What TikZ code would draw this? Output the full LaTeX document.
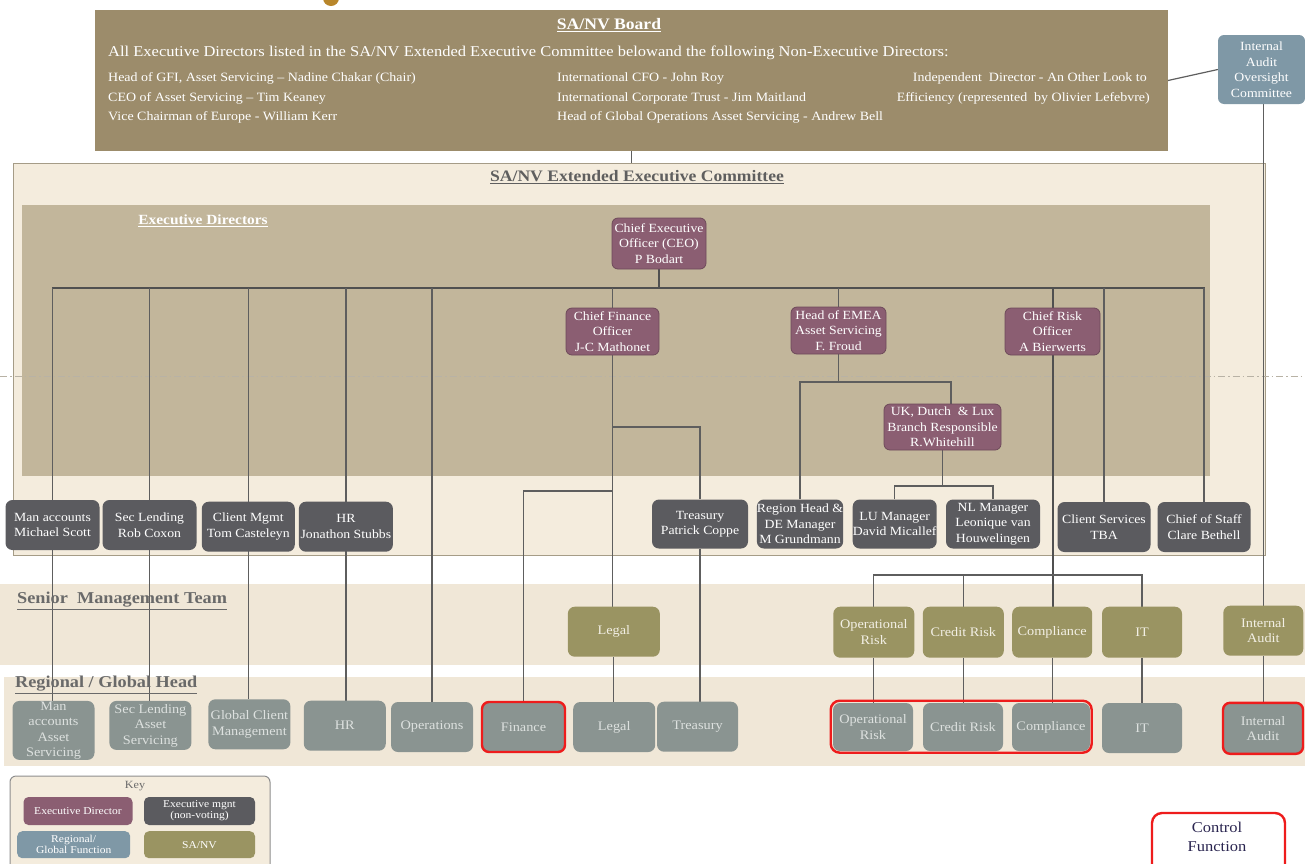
\documentclass[tikz,border=0pt]{standalone}
\usepackage{fontspec}
\setmainfont[FakeStretch=1.1]{Liberation Serif}
\definecolor{boardc}{HTML}{9C8C6B}
\definecolor{extc}{HTML}{F4ECDD}
\definecolor{extb}{HTML}{A59C87}
\definecolor{edc}{HTML}{C2B69B}
\definecolor{mauve}{HTML}{8B5E72}
\definecolor{mauveb}{HTML}{6E4A5A}
\definecolor{dgrey}{HTML}{5B5B5F}
\definecolor{olivec}{HTML}{9A9462}
\definecolor{rgrey}{HTML}{8A9491}
\definecolor{bgrey}{HTML}{7F98A6}
\definecolor{bandc}{HTML}{F0E7D7}
\definecolor{lnc}{HTML}{5E5E5E}
\definecolor{ctrlred}{HTML}{EE1C1C}
\definecolor{goldc}{HTML}{B8862B}
\definecolor{labc}{HTML}{6A6A6A}
\definecolor{rgtext}{HTML}{DDE1DF}
\definecolor{smttext}{HTML}{F2EFE4}
\definecolor{dashc}{HTML}{B8B2A5}
\definecolor{ctrltext}{HTML}{2A2550}
\definecolor{keyb}{HTML}{8E8E8E}
\newcommand\myboxfont{\fontsize{12.5}{15.5}\selectfont}
\newcommand\myrgfont{\fontsize{13}{15.5}\selectfont}
\newcommand\mykeyfont{\fontsize{10.5}{11}\selectfont}
\pgfdeclarelayer{bg}
\pgfdeclarelayer{lines}
\pgfsetlayers{bg,lines,main}
\begin{document}
\begin{tikzpicture}[x=1pt,y=-1pt,
  bx/.style={rounded corners=6pt, align=center, inner sep=0pt, text=white, font=\myboxfont},
  ed/.style={bx, fill=mauve, draw=mauveb, line width=0.8pt},
  em/.style={bx, fill=dgrey, rounded corners=7pt},
  sm/.style={bx, fill=olivec, text=smttext, font=\myrgfont, rounded corners=7pt},
  rg/.style={bx, fill=rgrey, text=rgtext, font=\myrgfont, rounded corners=7pt},
  kb/.style={bx, font=\mykeyfont, rounded corners=5pt},
  ctl/.style={draw=ctrlred, line width=2.4pt},
  ln/.style={draw=lnc, line width=1.2pt},
  bus/.style={draw=lnc!85!black, line width=2pt},
  area/.style={inner sep=0pt, outer sep=0pt},
  sz/.style 2 args={minimum width=#1pt, minimum height=#2pt},
  boardtxt/.style={text=white, anchor=west, inner sep=0pt, font=\fontsize{12.7}{14}\selectfont},
  sectlab/.style={text=labc, anchor=west, inner sep=0pt, font=\bfseries\fontsize{16.6}{18}\selectfont}
]
\useasboundingbox (0,0) rectangle (1305,863);

\begin{pgfonlayer}{bg}
\fill[white] (0,0) rectangle (1305,863);
\fill[goldc] (331,-2) circle (8pt);
\node[area, fill=boardc, sz={1073}{141}] (board) at (631.5,80.5) {};
\node[area, fill=extc, draw=extb, line width=1pt, sz={1252}{392}] (ext) at (639,359) {};
\node[area, fill=edc, sz={1188}{271}] (edarea) at (616,340.5) {};
\node[area, fill=bandc, sz={1305}{81}] (smtband) at (652.5,624.5) {};
\node[area, fill=bandc, sz={1301}{89}] (rgband) at (654.5,721.5) {};
\draw[dashc, line width=0.8pt, dash pattern=on 7pt off 3pt on 1.5pt off 3pt] (0,376) -- (1305,376);
\node[area, fill=extc, draw=keyb, line width=1pt, rounded corners=6pt, sz={260}{104}] (key) at (140,828) {};
\end{pgfonlayer}

% Board texts
\node[text=white, font=\bfseries\fontsize{16}{18}\selectfont] (boardt) at (609,25) {\underline{SA/NV Board}};
\node[boardtxt, font=\fontsize{15}{17}\selectfont] (boardl) at (108,53) {All Executive Directors listed in the SA/NV Extended Executive Committee belowand the following Non-Executive Directors:};
\node[boardtxt] (b11) at (108,78) {Head of GFI, Asset Servicing – Nadine Chakar (Chair)};
\node[boardtxt] (b12) at (108,98) {CEO of Asset Servicing – Tim Keaney};
\node[boardtxt] (b13) at (108,117) {Vice Chairman of Europe - William Kerr};
\node[boardtxt] (b21) at (557,78) {International CFO - John Roy};
\node[boardtxt] (b22) at (557,98) {International Corporate Trust - Jim Maitland};
\node[boardtxt] (b23) at (557,117) {Head of Global Operations Asset Servicing - Andrew Bell};
\node[boardtxt, anchor=east] (b31) at (1147,78) {Independent\ \ Director - An Other Look to};
\node[boardtxt, anchor=east] (b32) at (1150,98) {Efficiency (represented\ \ by Olivier Lefebvre)};

\node[bx, fill=bgrey, sz={87}{69}, font=\fontsize{12.5}{15.5}\selectfont] (iaoc) at (1261.5,69.5) {Internal\\Audit\\Oversight\\Committee};

% section labels
\node[text=labc!90!black, font=\bfseries\fontsize{16}{18}\selectfont] (extt) at (637,177) {\underline{SA/NV Extended Executive Committee}};
\node[text=white, font=\bfseries\fontsize{14}{15}\selectfont] (edt) at (203,221) {\underline{Executive Directors}};
\node[sectlab] (smtt) at (17,601) {\underline{Senior\ \ Management Team}};
\node[sectlab] (rgt) at (15,685) {\underline{Regional / Global Head}};

% Executive directors
\node[ed, sz={94}{51}] (ceo) at (659,243.5) {Chief Executive\\Officer (CEO)\\P Bodart};
\node[ed, sz={93}{47}] (cfo) at (612.5,331.5) {Chief Finance\\Officer\\J-C Mathonet};
\node[ed, sz={95}{47}] (emea) at (838.5,330.5) {Head of EMEA\\Asset Servicing\\F. Froud};
\node[ed, sz={95}{47}] (cro) at (1052.5,331.5) {Chief Risk\\Officer\\A Bierwerts};
\node[ed, sz={117}{46}] (uk) at (942.5,427) {UK, Dutch\ \ \& Lux\\Branch Responsible\\R.Whitehill};

% Executive management
\node[em, sz={94}{50}] (ma) at (52.5,525) {Man accounts\\Michael Scott};
\node[em, sz={94}{50}] (sl) at (149.5,525) {Sec Lending\\Rob Coxon};
\node[em, sz={93}{50}] (cm) at (248.3,526.7) {Client Mgmt\\Tom Casteleyn};
\node[em, sz={94}{50}] (hr) at (345.9,526.7) {HR\\Jonathon Stubbs};
\node[em, sz={96}{49}] (tr) at (700,524) {Treasury\\Patrick Coppe};
\node[em, sz={85}{49}] (rh) at (800,524) {Region Head \&\\DE Manager\\M Grundmann};
\node[em, sz={84}{49}] (lu) at (894.7,524) {LU Manager\\David Micallef};
\node[em, sz={94}{49}] (nl) at (993,524) {NL Manager\\Leonique van\\Houwelingen};
\node[em, sz={93}{50}] (cs) at (1104,527) {Client Services\\TBA};
\node[em, sz={93}{50}] (cos) at (1204,527) {Chief of Staff\\Clare Bethell};

% Senior management team
\node[sm, sz={92}{50}] (legal) at (613.8,631.7) {Legal};
\node[sm, sz={81}{51}] (opr) at (873.8,632.2) {Operational\\Risk};
\node[sm, sz={81}{51}] (cr) at (963.3,632.2) {Credit Risk};
\node[sm, sz={80}{51}] (comp) at (1052.2,632.2) {Compliance};
\node[sm, sz={80}{51}] (it) at (1142,632.2) {IT};
\node[sm, sz={80}{50}] (iasmt) at (1263.3,630.7) {Internal\\Audit};

% Regional / global
\node[rg, sz={82}{59}] (marg) at (53.5,730.4) {Man\\accounts\\Asset\\Servicing};
\node[rg, sz={82}{49}] (slrg) at (150.4,725.4) {Sec Lending\\Asset\\Servicing};
\node[rg, sz={82}{50}] (gcm) at (249.4,724.3) {Global Client\\Management};
\node[rg, sz={82}{50}] (hrrg) at (344.8,725.7) {HR};
\node[rg, sz={82}{50}] (ops) at (432,727) {Operations};
\node[rg, ctl, sz={83}{50}] (fin) at (523.5,727) {Finance};
\node[rg, sz={82}{50}] (legrg) at (614.2,727) {Legal};
\node[rg, sz={81}{50}] (trrg) at (697.5,726.7) {Treasury};
\node[rg, sz={80}{48}] (oprrg) at (873,727) {Operational\\Risk};
\node[rg, sz={80}{48}] (crrg) at (963,727) {Credit Risk};
\node[rg, sz={78}{48}] (comprg) at (1051,727) {Compliance};
\node[rg, sz={80}{50}] (itrg) at (1142,728) {IT};
\node[rg, ctl, sz={80}{51}] (iarg) at (1263,728.3) {Internal\\Audit};
\node[ctl, rounded corners=9pt, inner sep=0pt, sz={261}{52}] (riskgrp) at (961.2,726.7) {};

% Key
\node[text=labc, font=\fontsize{11}{12}\selectfont] (keyt) at (135,786.5) {Key};
\node[kb, fill=mauve, sz={109}{28}] (kd) at (78,811) {Executive Director};
\node[kb, fill=dgrey, sz={111}{28}] (km) at (199.5,811) {Executive mgnt\\(non-voting)};
\node[kb, fill=bgrey, sz={113}{27}] (kr) at (73.7,844.7) {Regional/\\Global Function};
\node[kb, fill=olivec, sz={111}{27}] (ks) at (199.5,844.7) {SA/NV};

% Control function
\node[ctl, fill=white, rounded corners=10pt, sz={133}{70}] (ctrl) at (1218.5,848) {};
\node[text=ctrltext, font=\fontsize{15}{18.5}\selectfont, align=center] (ctrlt) at (1217,837) {Control\\Function};

\begin{pgfonlayer}{lines}
\draw[ln] (board.south) -- (board.south |- ext.north);
\draw[ln] (board.east) -- (iaoc.west);
\draw[ln] (iaoc.south -| iasmt.north) -- (iasmt.north);
\draw[ln] (iasmt.south) -- (iasmt.south |- iarg.north);
\coordinate (busL) at (52,288);
\coordinate (busR) at (1205,288);
\draw[bus] (ceo.south) -- (ceo.south |- busL);
\draw[bus] (busL) -- (busR);
\foreach \a/\b in {ma/marg, sl/slrg, cm/gcm, hr/hrrg} \draw[ln] (\a.north |- busL) -- (\a.north |- \b.north);
\draw[ln] (ops.north |- busL) -- (ops.north);
\draw[ln] (cfo.north |- busL) -- (cfo.north);
\draw[ln] (cfo.south) -- (cfo.south |- legal.north);
\draw[ln] (legal.south) -- (legal.south |- legrg.north);
\draw[ln] (cfo.south |- 0,427) -| (tr.north);
\draw[ln] (tr.south) -- (tr.south |- trrg.north);
\draw[ln] (cfo.south |- 0,491) -| (fin.north);
\draw[ln] (emea.north |- busL) -- (emea.north);
\draw[ln] (emea.south) -- (emea.south |- 0,382);
\draw[ln] (rh.north) |- (951,382) -- (uk.north -| 951,0);
\draw[ln] (uk.south) -- (uk.south |- 0,486);
\draw[ln] (lu.north) |- (nl.north |- 0,486) -- (nl.north);
\draw[bus] (cro.north |- busL) -- (cro.north);
\draw[bus] (cro.south) -- (cro.south |- comp.north);
\draw[ln] (opr.north) |- (it.north |- 0,575) -- (it.north);
\draw[ln] (cr.north) -- (cr.north |- 0,575);
\foreach \a/\b in {opr/oprrg, cr/crrg, comp/comprg, it/itrg} \draw[ln] (\a.south) -- (\a.south |- \b.north);
\draw[ln] (cs.north |- busL) -- (cs.north);
\draw[ln] (cos.north |- busL) -- (cos.north);
\end{pgfonlayer}
\end{tikzpicture}
\end{document}
